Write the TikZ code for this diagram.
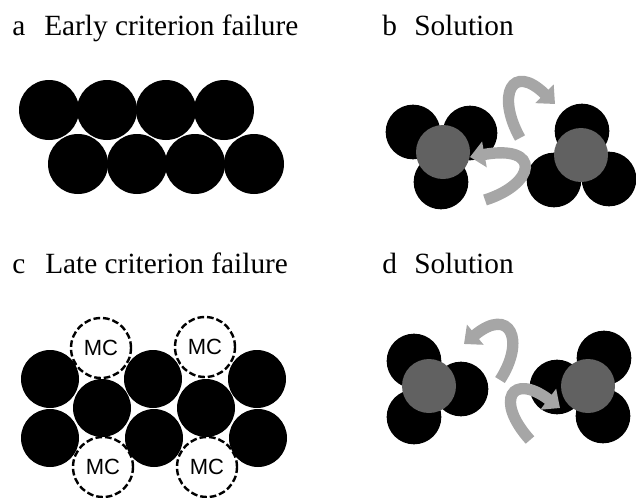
\documentclass[tikz,border=0pt]{standalone}
\usepackage{fontspec}
\setmainfont{Liberation Serif}
\newfontfamily\mcfont{Liberation Sans}
\usetikzlibrary{arrows.meta}
\definecolor{ballgray}{HTML}{616161}
\definecolor{arrowgray}{HTML}{A6A6A6}
\tikzset{
  ballA/.style={circle,fill=black,inner sep=0pt,minimum size=45pt},
  ballC/.style={circle,fill=black,inner sep=0pt,minimum size=43.5pt},
  ballS/.style={circle,fill=black,inner sep=0pt,minimum size=41pt},
  grayball/.style={circle,fill=ballgray,inner sep=0pt,minimum size=40.5pt},
  mcfill/.style={circle,fill=white,inner sep=0pt,minimum size=45pt},
  mcring/.style={circle,draw=black,line width=1.8pt,dash pattern=on 5pt off 2.2pt,inner sep=0pt,minimum size=45pt,font=\mcfont\fontsize{16.5pt}{18pt}\selectfont},
  letter/.style={anchor=base west,inner sep=0pt,font=\fontsize{22pt}{26pt}\selectfont},
  title/.style={anchor=base west,inner sep=0pt,font=\fontsize{22pt}{26pt}\selectfont},
  bigarrow/.style={draw=arrowgray,line width=8.5pt,-{Triangle[width=19pt,length=11pt]}}
}
\begin{document}
\begin{tikzpicture}[x=0.75pt,y=-0.75pt]
\useasboundingbox (0,0) rectangle (636,497);
% labels
\node[letter] (la) at (12,35) {a};
\node[title] (ta) at (44,35) {Early criterion failure};
\node[letter] (lb) at (382,35) {b};
\node[title] (tb) at (414,35) {Solution};
\node[letter] (lc) at (12,273) {c};
\node[title] (tc) at (45,273) {Late criterion failure};
\node[letter] (ld) at (382,273) {d};
\node[title] (td) at (414,273) {Solution};
% panel a
\node[ballA] (a1) at (49,110) {};
\node[ballA] (a2) at (107,110) {};
\node[ballA] (a3) at (166,110) {};
\node[ballA] (a4) at (224,110) {};
\node[ballA] (a5) at (78,164) {};
\node[ballA] (a6) at (137,164) {};
\node[ballA] (a7) at (195,164) {};
\node[ballA] (a8) at (254,164) {};
% panel b
\node[ballS] (b1) at (413,132) {};
\node[ballS] (b2) at (470,133) {};
\node[ballS] (b3) at (441,182) {};
\node[grayball] (bg1) at (443,152) {};
\node[ballS] (b4) at (582,131) {};
\node[ballS] (b5) at (554,180) {};
\node[ballS] (b6) at (609,179) {};
\node[grayball] (bg2) at (581,155) {};
\coordinate (bu0) at (520,138);
\coordinate (bu1) at (555,104);
\draw[bigarrow] (bu0) .. controls (496,95) and (512,62) .. (bu1);
\coordinate (bl0) at (485,200);
\coordinate (bl1) at (470,157);
\draw[bigarrow] (bl0) .. controls (536,184) and (542,144) .. (bl1);
% panel c
\node[mcfill] (m1f) at (101,348) {};
\node[mcfill] (m2f) at (205,347) {};
\node[mcfill] (m3f) at (103,467) {};
\node[mcfill] (m4f) at (207,467) {};
\node[ballC] (c1) at (50,379) {};
\node[ballC] (c2) at (153,379) {};
\node[ballC] (c3) at (257,379) {};
\node[ballC] (c4) at (102,408) {};
\node[ballC] (c5) at (206,408) {};
\node[ballC] (c6) at (50,438) {};
\node[ballC] (c7) at (154,438) {};
\node[ballC] (c8) at (258,438) {};
\node[mcring] (m1) at (101,348) {MC};
\node[mcring] (m2) at (205,347) {MC};
\node[mcring] (m3) at (103,467) {MC};
\node[mcring] (m4) at (207,467) {MC};
% panel d
\node[ballS] (d1) at (414,361) {};
\node[ballS] (d2) at (414,417) {};
\node[ballS] (d3) at (461,389) {};
\node[grayball] (dg1) at (429,386) {};
\node[ballS] (d4) at (604,358) {};
\node[ballS] (d5) at (603,416) {};
\node[ballS] (d6) at (557,387) {};
\node[grayball] (dg2) at (588,386) {};
\coordinate (du0) at (500,380);
\coordinate (du1) at (464,344);
\draw[bigarrow] (du0) .. controls (526,340) and (510,306) .. (du1);
\coordinate (dl0) at (530,440);
\coordinate (dl1) at (560,408);
\draw[bigarrow] (dl0) .. controls (494,400) and (512,372) .. (dl1);
\end{tikzpicture}
\end{document}
